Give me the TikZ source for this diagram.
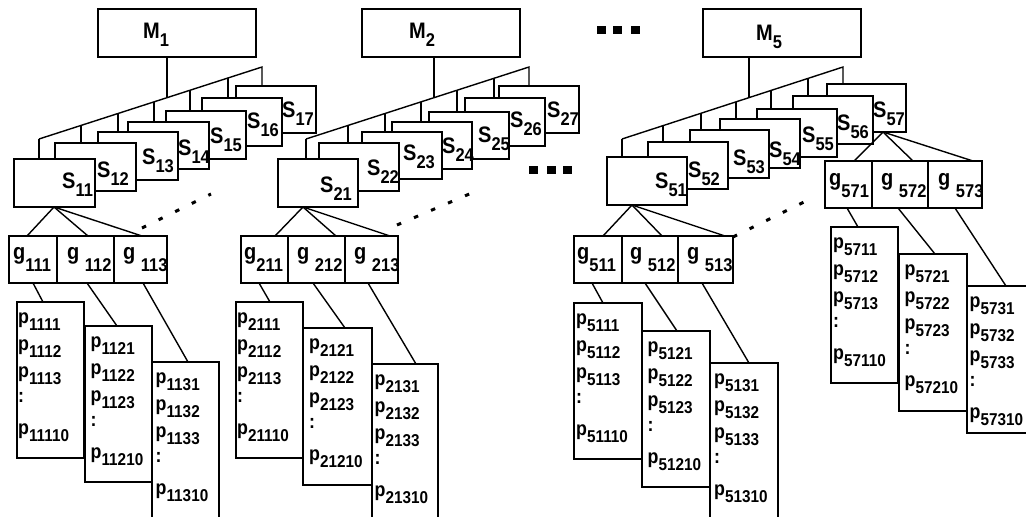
\documentclass[tikz,border=0pt]{standalone}
\usepackage{graphicx}
\usepackage{fontspec}
\setmainfont{Liberation Sans}
\usetikzlibrary{fit}
\newcommand\lowsub[2]{\raisebox{-#1}{\fontsize{16.5}{16.5}\selectfont #2}}
\newcommand\plow[2]{\raisebox{-#1}{\fontsize{15.3}{15.3}\selectfont #2}}
\newcommand\vs[1]{\scalebox{1}[1.12]{#1}}
\tikzset{
  x=1pt, y=-1pt,
  box/.style={draw, line width=1.4pt, fill=white, inner sep=0pt, outer sep=0pt},
  conn/.style={line width=1.4pt},
  dotline/.style={line width=3pt, dash pattern=on 4.5pt off 14pt},
  slab/.style={inner sep=0pt, anchor=base west, font=\fontsize{20}{20}\selectfont\bfseries},
  plab/.style={inner sep=0pt, anchor=base west, font=\fontsize{17.8}{17.8}\selectfont\bfseries},
  sq/.style={fill=black, inner sep=0pt, minimum width=9pt, minimum height=8pt},
}
\newcommand\mkbox[5]{\node[box, fit={(#2,#3) (#4,#5)}] (#1) {};}
\newcommand\slbl[4]{\node[slab] (#1) at (#2,#3) {\vs{S\lowsub{8pt}{#4}}};}
\newcommand\glbl[5]{\node[slab] (#1) at (#2,#3) {\vs{#4\lowsub{11pt}{#5}}};}
\newcommand\plines[3]{%
  \node[plab] (#1-1) at ([xshift=#2pt,yshift=-21pt]#1.north west) {\vs{p\plow{7pt}{#31}}};
  \node[plab] (#1-2) at ([xshift=#2pt,yshift=-48pt]#1.north west) {\vs{p\plow{7pt}{#32}}};
  \node[plab] (#1-3) at ([xshift=#2pt,yshift=-75pt]#1.north west) {\vs{p\plow{7pt}{#33}}};
  \node[plab] (#1-4) at ([xshift=#2pt,yshift=-100pt]#1.north west) {\vs{:}};
  \node[plab] (#1-5) at ([xshift=#2pt,yshift=-132pt]#1.north west) {\vs{p\plow{7pt}{#310}}};
}
\begin{document}
\begin{tikzpicture}
\useasboundingbox (0,0) rectangle (1026,517);

% ---------------- group 1 ----------------
\mkbox{M1}{98}{9}{256}{57}
\node[slab] (M1l) at (143,38) {\vs{M\lowsub{8pt}{1}}};
\mkbox{S17}{236}{86}{316}{133} \slbl{S17l}{282}{117}{17}
\mkbox{S16}{202}{98}{282}{146} \slbl{S16l}{247}{128}{16}
\mkbox{S15}{166}{111}{246}{159} \slbl{S15l}{210}{143}{15}
\mkbox{S14}{128}{122}{209}{169} \slbl{S14l}{178}{155}{14}
\mkbox{S13}{98}{132}{178}{180} \slbl{S13l}{142}{164}{13}
\mkbox{S12}{55}{143}{136}{191} \slbl{S12l}{97}{177}{12}
\mkbox{S11}{14}{159}{95}{207} \slbl{S11l}{62}{188}{11}
\coordinate (L1a) at (39,139);
\coordinate (L1b) at (262,67);
\coordinate (J1) at (167,97.7);
\coordinate (T12) at (81,125.4);
\coordinate (T13) at (118,113.5);
\coordinate (T14) at (154,101.9);
\coordinate (T15) at (190,90.2);
\coordinate (T16) at (228,78.0);
\draw[conn] (L1a) -- (L1b) -- (S17.north -| L1b);
\draw[conn] (M1.south -| J1) -- (J1);
\draw[conn] (L1a) -- (S11.north -| L1a);
\draw[conn] (T12) -- (S12.north -| T12);
\draw[conn] (T13) -- (S13.north -| T13);
\draw[conn] (T14) -- (S14.north -| T14);
\draw[conn] (T15) -- (S15.north -| T15);
\draw[conn] (T16) -- (S16.north -| T16);

\mkbox{g111}{9}{236}{57}{283} \glbl{g111l}{13}{259}{g}{111}
\mkbox{g112}{57}{236}{114}{283} \glbl{g112l}{67}{259}{g\ }{112}
\mkbox{g113}{114}{236}{167}{283} \glbl{g113l}{123}{259}{g\ }{113}
\draw[conn] ([xshift=40pt]S11.south west) -- ([xshift=18pt]g111.north west);
\draw[conn] ([xshift=40pt]S11.south west) -- ([xshift=31pt]g112.north west);
\draw[conn] ([xshift=40pt]S11.south west) -- ([xshift=28pt]g113.north west);
\coordinate (D1a) at (142,228);
\coordinate (D1b) at (211,194);
\draw[dotline] (D1a) -- (D1b);

\mkbox{P13}{152}{362}{219}{545} \plines{P13}{3.5}{113}
\mkbox{P12}{85}{326}{152}{482} \plines{P12}{5.5}{112}
\mkbox{P11}{17}{302}{84}{458} \plines{P11}{1}{111}
\draw[conn] ([xshift=24pt]g111.south west) -- ([xshift=26pt]P11.north west);
\draw[conn] ([xshift=30pt]g112.south west) -- ([xshift=32pt]P12.north west);
\draw[conn] ([xshift=29pt]g113.south west) -- ([xshift=36pt]P13.north west);

% ---------------- group 2 ----------------
\mkbox{M2}{362}{9}{520}{57}
\node[slab] (M2l) at (409,38) {\vs{M\lowsub{8pt}{2}}};
\mkbox{S27}{499}{86}{579}{133} \slbl{S27l}{547}{117}{27}
\mkbox{S26}{465}{98}{545}{146} \slbl{S26l}{510}{127}{26}
\mkbox{S25}{429}{112}{509}{159} \slbl{S25l}{478}{142}{25}
\mkbox{S24}{392}{122}{472}{169} \slbl{S24l}{442}{153}{24}
\mkbox{S23}{362}{132}{442}{179} \slbl{S23l}{403}{160}{23}
\mkbox{S22}{319}{143}{399}{191} \slbl{S22l}{367}{175}{22}
\mkbox{S21}{278}{159}{358}{207} \slbl{S21l}{320}{192}{21}
\coordinate (L2a) at (306,139);
\coordinate (L2b) at (529,67);
\coordinate (J2) at (434,97.6);
\coordinate (T22) at (348,125.4);
\coordinate (T23) at (385,113.5);
\coordinate (T24) at (421,101.9);
\coordinate (T25) at (457,90.2);
\coordinate (T26) at (494,78.3);
\draw[conn] (L2a) -- (L2b) -- (S27.north -| L2b);
\draw[conn] (M2.south -| J2) -- (J2);
\draw[conn] (L2a) -- (S21.north -| L2a);
\draw[conn] (T22) -- (S22.north -| T22);
\draw[conn] (T23) -- (S23.north -| T23);
\draw[conn] (T24) -- (S24.north -| T24);
\draw[conn] (T25) -- (S25.north -| T25);
\draw[conn] (T26) -- (S26.north -| T26);

\mkbox{g211}{241}{236}{288}{283} \glbl{g211l}{244}{259}{g}{211}
\mkbox{g212}{288}{236}{345}{283} \glbl{g212l}{297}{259}{g\ }{212}
\mkbox{g213}{345}{236}{398}{283} \glbl{g213l}{354}{259}{g\ }{213}
\draw[conn] ([xshift=25pt]S21.south west) -- ([xshift=34pt]g211.north west);
\draw[conn] ([xshift=25pt]S21.south west) -- ([xshift=48pt]g212.north west);
\draw[conn] ([xshift=25pt]S21.south west) -- ([xshift=45pt]g213.north west);
\coordinate (D2a) at (397,225);
\coordinate (D2b) at (481,189);
\draw[dotline] (D2a) -- (D2b);

\mkbox{P23}{372}{364}{438}{545} \plines{P23}{2.5}{213}
\mkbox{P22}{303}{328}{372}{485} \plines{P22}{6}{212}
\mkbox{P21}{236}{302}{303}{458} \plines{P21}{1}{211}
\draw[conn] ([xshift=18pt]g211.south west) -- ([xshift=34pt]P21.north west);
\draw[conn] ([xshift=25pt]g212.south west) -- ([xshift=42pt]P22.north west);
\draw[conn] ([xshift=23pt]g213.south west) -- ([xshift=44pt]P23.north west);

% ---------------- ellipsis marks ----------------
\node[sq] (e1) at (601.5,29.5) {};
\node[sq] (e2) at (617.5,29.5) {};
\node[sq] (e3) at (635,29.5) {};
\node[sq] (e4) at (533.5,170) {};
\node[sq] (e5) at (551,170) {};
\node[sq] (e6) at (567.5,170) {};

% ---------------- group 5 ----------------
\mkbox{M5}{703}{9}{861}{57}
\node[slab] (M5l) at (756,40) {\vs{M\lowsub{8pt}{5}}};
\mkbox{S57}{827}{84}{906}{132} \slbl{S57l}{873}{117}{57}
\mkbox{S56}{793}{96}{873}{144} \slbl{S56l}{837}{130}{56}
\mkbox{S55}{757}{109}{837}{157} \slbl{S55l}{802}{142}{55}
\mkbox{S54}{720}{119}{800}{168} \slbl{S54l}{769}{157}{54}
\mkbox{S53}{690}{130}{769}{178} \slbl{S53l}{733}{165}{53}
\mkbox{S52}{648}{142}{728}{189} \slbl{S52l}{688}{177}{52}
\mkbox{S51}{607}{157}{687}{205} \slbl{S51l}{655}{188}{51}
\coordinate (L5a) at (622,139);
\coordinate (L5b) at (843,67);
\coordinate (J5) at (749,97.6);
\coordinate (T52) at (663,125.6);
\coordinate (T53) at (701,113.3);
\coordinate (T54) at (736,101.9);
\coordinate (T55) at (771,90.5);
\coordinate (T56) at (808,78.4);
\draw[conn] (L5a) -- (L5b) -- (S57.north -| L5b);
\draw[conn] (M5.south -| J5) -- (J5);
\draw[conn] (L5a) -- (S51.north -| L5a);
\draw[conn] (T52) -- (S52.north -| T52);
\draw[conn] (T53) -- (S53.north -| T53);
\draw[conn] (T54) -- (S54.north -| T54);
\draw[conn] (T55) -- (S55.north -| T55);
\draw[conn] (T56) -- (S56.north -| T56);

\mkbox{g511}{574}{236}{622}{283} \glbl{g511l}{577}{259}{g}{511}
\mkbox{g512}{622}{236}{678}{283} \glbl{g512l}{630}{259}{g\ }{512}
\mkbox{g513}{678}{236}{733}{283} \glbl{g513l}{687}{259}{g\ }{513}
\draw[conn] ([xshift=25pt]S51.south west) -- ([xshift=29pt]g511.north west);
\draw[conn] ([xshift=25pt]S51.south west) -- ([xshift=40pt]g512.north west);
\draw[conn] ([xshift=25pt]S51.south west) -- ([xshift=47pt]g513.north west);
\coordinate (D5a) at (733,237);
\coordinate (D5b) at (804,202);
\draw[dotline] (D5a) -- (D5b);

\mkbox{P513}{710}{363}{778}{545} \plines{P513}{4}{513}
\mkbox{P512}{642}{331}{710}{487} \plines{P512}{5.5}{512}
\mkbox{P511}{574}{303}{642}{459} \plines{P511}{2}{511}
\draw[conn] ([xshift=18pt]g511.south west) -- ([xshift=29pt]P511.north west);
\draw[conn] ([xshift=23pt]g512.south west) -- ([xshift=35pt]P512.north west);
\draw[conn] ([xshift=24pt]g513.south west) -- ([xshift=39pt]P513.north west);

\mkbox{g571}{825}{161}{872}{208} \glbl{g571l}{829}{185}{g}{571}
\mkbox{g572}{872}{161}{928}{208} \glbl{g572l}{881}{185}{g\ }{572}
\mkbox{g573}{928}{161}{982}{208} \glbl{g573l}{938}{185}{g\ }{573}
\draw[conn] ([xshift=56pt]S57.south west) -- ([xshift=29pt]g571.north west);
\draw[conn] ([xshift=56pt]S57.south west) -- ([xshift=41pt]g572.north west);
\draw[conn] ([xshift=56pt]S57.south west) -- ([xshift=45pt]g573.north west);

\mkbox{P573}{967}{286}{1045}{433} \plines{P573}{2.5}{573}
\mkbox{P572}{899}{254}{967}{411} \plines{P572}{5.5}{572}
\mkbox{P571}{831}{227}{898}{383} \plines{P571}{2}{571}
\draw[conn] ([xshift=22pt]g571.south west) -- ([xshift=27pt]P571.north west);
\draw[conn] ([xshift=26pt]g572.south west) -- ([xshift=36pt]P572.north west);
\draw[conn] ([xshift=27pt]g573.south west) -- ([xshift=39pt]P573.north west);
\end{tikzpicture}
\end{document}
